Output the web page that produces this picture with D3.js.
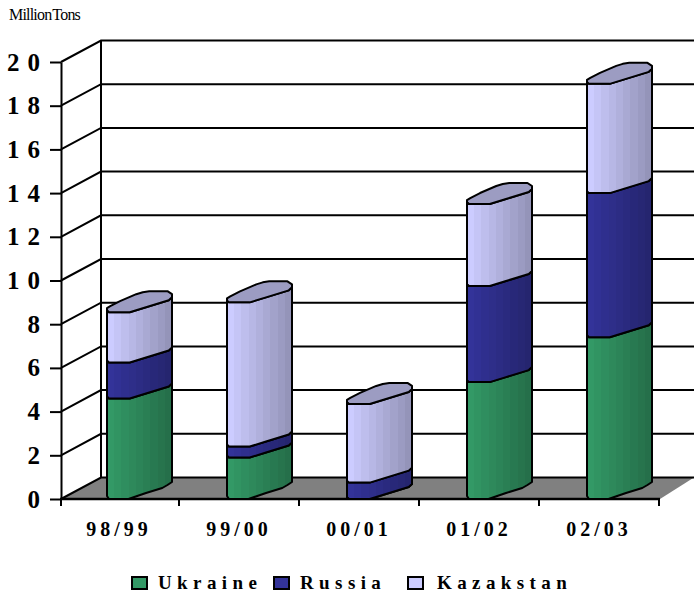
<!DOCTYPE html>
<html>
<head>
<title>Million Tons</title>
<script src="https://d3js.org/d3.v7.min.js"></script>
<style>
  body { margin: 0; background: #fff; }
  text { font-family: "Liberation Serif", serif; fill: #000; }
</style>
</head>
<body>
<div id="chart"></div>
<script>
var seasons = ["98/99", "99/00", "00/01", "01/02", "02/03"];
var seriesNames = ["Ukraine", "Russia", "Kazakstan"];
var ukraine = [4.6, 1.9, 0, 5.35, 7.4];
var russia = [1.65, 0.5, 0.75, 4.4, 6.6];
var kazakstan = [2.3, 6.6, 3.6, 3.75, 5.0];
var seriesValues = [ukraine, russia, kazakstan];
var seriesColors = ["#339966", "#333399", "#ccccff"];
var yTicks = [0, 2, 4, 6, 8, 10, 12, 14, 16, 18, 20];

var width = 694, height = 594;
var depthX = 40, depthY = 21.5, barWidth = 65;

var svg = d3.select("#chart").append("svg")
  .attr("width", width).attr("height", height);

var x = d3.scaleBand().domain(seasons).range([59, 659]);
var y = d3.scaleLinear().domain([0, 20]).range([499, 62]);

// stepped shading across the cylinders
var defs = svg.append("defs");
seriesColors.forEach(function(c, i) {
  var g = defs.append("linearGradient").attr("id", "shade" + i);
  var steps = 9;
  var dark = d3.interpolateRgb(c, d3.rgb(c).darker(0.9));
  d3.range(steps).forEach(function(s) {
    var col = dark(s / (steps - 1));
    g.append("stop").attr("offset", s / steps).attr("stop-color", col);
    g.append("stop").attr("offset", (s + 1) / steps).attr("stop-color", col);
  });
});

// floor
svg.append("path")
  .attr("d", "M61,499L" + (61 + depthX) + "," + (499 - depthY) + "L694," + (499 - depthY) + "L660,499Z")
  .attr("fill", "#808080").attr("stroke", "none");

// back wall + side wall
svg.selectAll(".grid").data(yTicks).enter().append("path")
  .attr("class", "grid")
  .attr("fill", "none").attr("stroke", "#000").attr("stroke-width", 2)
  .attr("d", function(d) {
    return "M61," + y(d) + "L" + (61 + depthX) + "," + (y(d) - depthY) + "L694," + (y(d) - depthY);
  });
svg.append("line")
  .attr("x1", 61 + depthX).attr("x2", 61 + depthX)
  .attr("y1", y(20) - depthY).attr("y2", y(0) - depthY)
  .attr("stroke", "#000").attr("stroke-width", 2);

// y axis
var yAxis = svg.append("g").attr("transform", "translate(61,0)")
  .call(d3.axisLeft(y).tickValues(yTicks).tickSize(11).tickPadding(9).tickSizeOuter(0));
yAxis.select(".domain").attr("stroke", "#000").attr("stroke-width", 2);
yAxis.selectAll(".tick line").attr("stroke", "#000").attr("stroke-width", 2);
yAxis.selectAll(".tick text")
  .style("font-size", "25px").style("font-weight", "bold")
  .style("font-family", "Liberation Serif")
  .style("letter-spacing", "8px").attr("x", -13);

// x axis
var xAxis = svg.append("g").attr("transform", "translate(0,499)")
  .call(d3.axisBottom(x).tickSize(0).tickPadding(23));
xAxis.select(".domain").remove();
xAxis.selectAll(".tick text")
  .style("font-size", "20px").style("font-weight", "bold")
  .style("font-family", "Liberation Serif")
  .style("letter-spacing", "4px");
svg.append("line").attr("x1", 60).attr("x2", 660).attr("y1", 499).attr("y2", 499)
  .attr("stroke", "#000").attr("stroke-width", 2.5);
svg.selectAll(".xtick").data(d3.range(seasons.length + 1)).enter().append("line")
  .attr("class", "xtick")
  .attr("x1", function(i) { return Math.max(61, 59 + i * x.step()); })
  .attr("x2", function(i) { return Math.max(61, 59 + i * x.step()); })
  .attr("y1", 499).attr("y2", 506)
  .attr("stroke", "#000").attr("stroke-width", 2);

// cylinder outline, offsets from the front-left corner
var baseEdge = [[0, -3], [0.03, 0], [0.33, 0], [0.6, -6], [0.85, -11], [0.93, -14], [1, -17]];
var frontEdge = [[0, -2], [0.03, 0], [0.35, 0], [0.6, -5], [0.85, -10], [0.95, -12], [1, -15]];
var backEdge = [[1, -15], [1, -18], [0.93, -21], [0.65, -21], [0.55, -20], [0.45, -18], [0.2, -11], [0.05, -6], [0, -4], [0, -2]];

function pts(edge, x0, y0) {
  return edge.map(function(p) { return [x0 + p[0] * barWidth, y0 + p[1]]; });
}
var line = d3.line().curve(d3.curveLinear);

var bars = svg.selectAll(".bar").data(seasons).enter().append("g").attr("class", "bar");
bars.each(function(s, i) {
  var g = d3.select(this);
  var x0 = x(s) + x.bandwidth() / 2 - 12;
  var base = 0;
  seriesValues.forEach(function(vals, k) {
    var y0 = y(base), y1 = y(base + vals[i]);
    base += vals[i];
    var bottom = pts(k === 0 ? baseEdge : frontEdge, x0, y0);
    var top = pts(frontEdge, x0, y1).reverse();
    g.append("path")
      .attr("d", line(bottom.concat(top)) + "Z")
      .attr("fill", "url(#shade" + k + ")")
      .attr("stroke", "#000").attr("stroke-width", 2).attr("stroke-linejoin", "round");
  });
  var yt = y(base);
  g.append("path")
    .attr("d", line(pts(frontEdge, x0, yt).concat(pts(backEdge, x0, yt))) + "Z")
    .attr("fill", "#9c9cc2")
    .attr("stroke", "#000").attr("stroke-width", 2).attr("stroke-linejoin", "round");
});

// unit label
svg.append("text").attr("x", 9).attr("y", 20)
  .style("font-size", "16px").style("letter-spacing", "-0.8px").style("word-spacing", "-2px")
  .text("Million Tons");

// legend
var legendX = [131, 273, 407];
var legendTextX = [158, 300, 437];
seriesNames.forEach(function(n, i) {
  svg.append("rect")
    .attr("x", legendX[i] + 1).attr("y", 577).attr("width", 15).attr("height", 12)
    .attr("fill", seriesColors[i]).attr("stroke", "#000").attr("stroke-width", 2);
  svg.append("text").attr("x", legendTextX[i]).attr("y", 589)
    .style("font-size", "19px").style("font-weight", "bold").style("letter-spacing", "5.4px")
    .text(n);
});
</script>
</body>
</html>
